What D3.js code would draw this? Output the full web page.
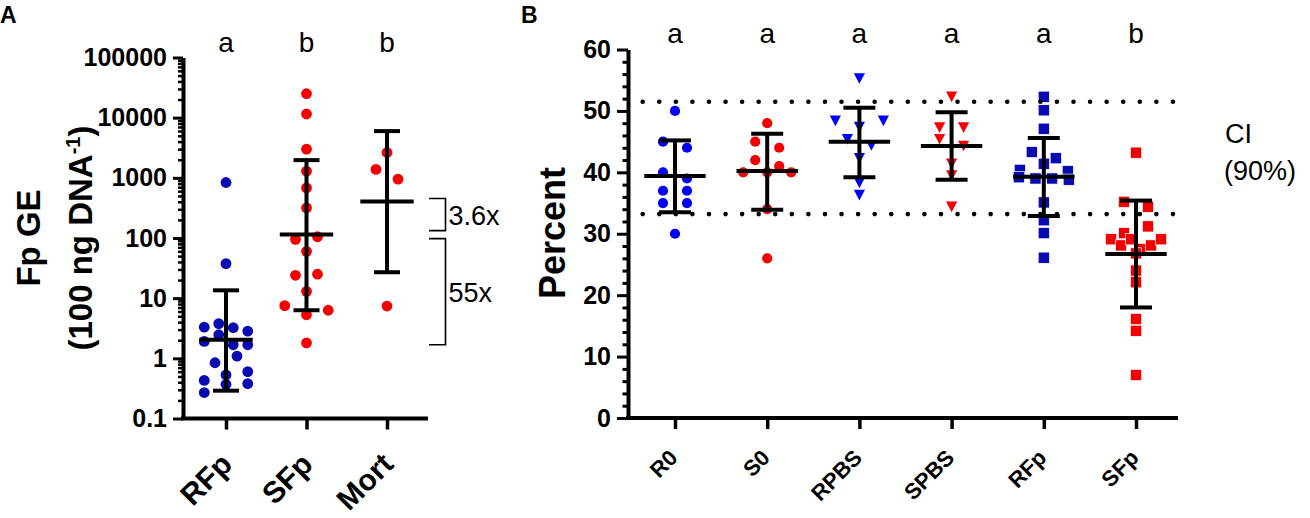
<!DOCTYPE html>
<html>
<head>
<meta charset="utf-8">
<script src="https://cdn.jsdelivr.net/npm/d3@7"></script>
<style>
  body { margin: 0; background: #fff; }
  text { font-family: "Liberation Sans", Arial, sans-serif; fill: #000; }
  .Slant { transform-box: view-box; }
</style>
</head>
<body>
<div id="chart"></div>
<script>
// ---- data, panel A (log scale, Fp GE) ----
var catsA = ["RFp", "SFp", "Mort"];
var lettersA = ["a", "b", "b"];
var aRFp = [836, 37.5, 3.3, 3.77, 3.23, 2.84, 1.91, 2.47, 1.68, 1.68, 0.845, 1.09, 0.43, 0.53, 0.60, 0.27, 0.37, 0.38];
var aSFp = [25000, 11500, 3000, 1290, 680, 316, 95, 105, 60, 24, 25, 13, 7.5, 5.3, 6.3, 1.8];
var aMort = [2640, 1380, 950, 7.4];
var meanA = [2.04, 114, 405];
var lowA = [0.29, 6.3, 27];
var highA = [13.5, 1970, 5980];
var ticksA = [0.1, 1, 10, 100, 1000, 10000, 100000];
var foldLabels = ["3.6x", "55x"];

// ---- data, panel B (percent) ----
var catsB = ["R0", "S0", "RPBS", "SPBS", "RFp", "SFp"];
var lettersB = ["a", "a", "a", "a", "a", "b"];
var bR0 = [50, 45, 44, 40, 39, 37, 37, 35, 35, 30];
var bS0 = [48, 45, 44, 42, 41, 40, 40, 40, 34, 26];
var bRPBS = [55.3, 48.4, 47.4, 48.4, 45.4, 44.4, 42.3, 38.3, 36.3];
var bSPBS = [52.3, 47.3, 47.3, 45.4, 44.3, 41.4, 39.5, 34.4];
var bRFp = [52.3, 50.1, 47.1, 43.3, 42.3, 40.4, 41.4, 40.2, 39.2, 39.0, 39.0, 38.8, 35.1, 32.2, 30.1, 26.1];
var bSFp = [43.2, 35.2, 34.4, 30.1, 31.2, 29.1, 28.1, 29.1, 27.5, 28.1, 29.1, 26.8, 24.0, 22.1, 16.1, 14.2, 7.0];
var meanB = [39.4, 40.2, 45.0, 44.3, 39.3, 26.7];
var lowB = [33.5, 33.9, 39.2, 38.8, 32.9, 18.0];
var highB = [45.2, 46.3, 50.5, 49.8, 45.6, 35.4];
var ticksB = [0, 10, 20, 30, 40, 50, 60];
var ciB = [33.2, 51.5];

// ---- styles ----
var blue = "#0000f2";
var darkBlue = "#0a0ab2";
var red = "#f40000";

var width = 1310;
var height = 518;

var svg = d3.select("#chart")
    .append("svg")
    .attr("width", width)
    .attr("height", height);

// rows of points that would overlap are spread sideways, centred on the group
function swarm(values, y, rowGap, maxHalf, maxStep) {
    var rows = [];
    var cur = null;
    values.forEach(function (v) {
        var py = y(v);
        if (cur && Math.max(cur.max, py) - Math.min(cur.min, py) < rowGap) {
            cur.items.push({v: v, y: py});
            cur.min = Math.min(cur.min, py);
            cur.max = Math.max(cur.max, py);
        } else {
            cur = {min: py, max: py, items: [{v: v, y: py}]};
            rows.push(cur);
        }
    });
    var out = [];
    rows.forEach(function (r) {
        var n = r.items.length;
        var step = n > 1 ? Math.min(maxStep, 2 * maxHalf / (n - 1)) : 0;
        r.items.forEach(function (it, i) {
            it.dx = (i - (n - 1) / 2) * step;
            out.push(it);
        });
    });
    return out;
}

function drawMarks(g, pts, cx, shape, color) {
    if (shape === "circle" || shape === "circleA") {
        g.selectAll(null).data(pts).enter().append("circle")
            .attr("cx", function (d) { return cx + d.dx; })
            .attr("cy", function (d) { return d.y; })
            .attr("r", shape === "circleA" ? 5.4 : 5.1)
            .attr("fill", color);
    } else if (shape === "square") {
        g.selectAll(null).data(pts).enter().append("rect")
            .attr("x", function (d) { return cx + d.dx - 5.6; })
            .attr("y", function (d) { return d.y - 5.6; })
            .attr("width", 11.2)
            .attr("height", 11.2)
            .attr("fill", color)
            .attr("stroke", "#fff")
            .attr("stroke-width", 0.7);
    } else {
        g.selectAll(null).data(pts).enter().append("path")
            .attr("d", "M-5.6,-5.2L5.6,-5.2L0,5.4Z")
            .attr("transform", function (d) { return "translate(" + (cx + d.dx) + "," + d.y + ")"; })
            .attr("fill", color);
    }
}

function drawErrorBar(g, cx, yLow, yMean, yHigh, capHalf, meanHalf) {
    g.append("line")
        .attr("x1", cx).attr("x2", cx)
        .attr("y1", yLow).attr("y2", yHigh)
        .attr("stroke", "#000").attr("stroke-width", 4);
    [yLow, yHigh].forEach(function (yy) {
        g.append("line")
            .attr("x1", cx - capHalf).attr("x2", cx + capHalf)
            .attr("y1", yy).attr("y2", yy)
            .attr("stroke", "#000").attr("stroke-width", 4);
    });
    g.append("line")
        .attr("x1", cx - meanHalf).attr("x2", cx + meanHalf)
        .attr("y1", yMean).attr("y2", yMean)
        .attr("stroke", "#000").attr("stroke-width", 4);
}

function styleAxis(g, fontSize) {
    g.select(".domain").attr("stroke", "#000").attr("stroke-width", 4);
    g.selectAll(".tick line").attr("stroke", "#000").attr("stroke-width", 3);
    g.selectAll(".tick text")
        .style("font-family", "'Liberation Sans', Arial, sans-serif")
        .style("font-weight", "bold")
        .style("font-size", fontSize + "px")
        .attr("fill", "#000");
}

// slanted category labels, turned with a CSS transform
function slantLabels(g, cats, x, dx, y, size) {
    g.selectAll(null).data(cats).enter().append("text")
        .attr("class", "Slant")
        .attr("x", 0)
        .attr("y", 0)
        .style("transform-origin", "0px 0px")
        .style("transform", function (d) {
            return "translate(" + (x(d) + dx) + "px," + y + "px) rotate(-45deg)";
        })
        .attr("text-anchor", "end")
        .style("font-size", size + "px")
        .style("font-weight", "bold")
        .text(function (d) { return d; });
}

// ================= PANEL A =================
var gA = svg.append("g").attr("id", "PanelA");
var axisXA = 183;
var baseA = 418.5;

var yA = d3.scaleLog().domain([0.1, 100000]).range([baseA, 57.5]);
var xA = d3.scalePoint().domain(catsA).range([226, 387]);

var minorA = yA.ticks().filter(function (t) { return ticksA.indexOf(t) < 0; });

gA.append("g")
    .attr("transform", "translate(" + axisXA + ",0)")
    .call(d3.axisLeft(yA).tickValues(minorA).tickSize(5).tickSizeOuter(0).tickFormat(""))
    .call(function (g) { g.select(".domain").remove(); g.selectAll(".tick line").attr("stroke", "#000").attr("stroke-width", 2.5); });

var yAxisA = gA.append("g")
    .attr("transform", "translate(" + axisXA + ",0)")
    .call(d3.axisLeft(yA).tickValues(ticksA).tickSize(10).tickSizeOuter(0).tickPadding(6)
        .tickFormat(function (d) { return d < 1 ? String(d) : d3.format("d")(d); }));
styleAxis(yAxisA, 25);

gA.append("line")
    .attr("x1", axisXA - 2).attr("x2", 428)
    .attr("y1", baseA).attr("y2", baseA)
    .attr("stroke", "#000").attr("stroke-width", 4);

gA.append("g")
    .attr("transform", "translate(0," + baseA + ")")
    .call(d3.axisBottom(xA).tickSize(11).tickSizeOuter(0).tickFormat(""))
    .call(function (g) { g.select(".domain").remove(); g.selectAll(".tick line").attr("stroke", "#000").attr("stroke-width", 3.5); });

slantLabels(gA, catsA, xA, 8, 466, 30);

gA.selectAll(".LetterA").data(catsA).enter().append("text")
    .attr("class", "LetterA")
    .attr("x", function (d) { return xA(d); })
    .attr("y", 52)
    .attr("text-anchor", "middle")
    .style("font-size", "28px")
    .text(function (d, i) { return lettersA[i]; });

var seriesA = [
    {values: aRFp, color: darkBlue},
    {values: aSFp, color: red},
    {values: aMort, color: red}
];
seriesA.forEach(function (s, i) {
    var pts = swarm(s.values, yA, 10.5, 21.75, 22);
    drawMarks(gA, pts, xA(catsA[i]), "circleA", s.color);
});
catsA.forEach(function (c, i) {
    drawErrorBar(gA, xA(c), yA(lowA[i]), yA(meanA[i]), yA(highA[i]), 13, 26.7);
});

// fold-change brackets between group means
var bracketX = 445.5;
var brackets = [
    {top: yA(meanA[2]) - 3, bottom: yA(meanA[1]) - 4, label: foldLabels[0]},
    {top: yA(meanA[1]) + 4, bottom: yA(meanA[0]) + 5, label: foldLabels[1]}
];
brackets.forEach(function (b) {
    gA.append("path")
        .attr("d", "M429," + b.top + "H" + bracketX + "V" + b.bottom + "H429")
        .attr("fill", "none")
        .attr("stroke", "#000")
        .attr("stroke-width", 1.6);
    gA.append("text")
        .attr("x", bracketX + 3)
        .attr("y", (b.top + b.bottom) / 2 + 10)
        .style("font-size", "27px")
        .text(b.label);
});

var yLabA = gA.append("g");
yLabA.append("text")
    .attr("transform", "translate(40,238) rotate(-90)")
    .attr("text-anchor", "middle")
    .style("font-size", "33px")
    .style("font-weight", "bold")
    .text("Fp GE");
var line2 = yLabA.append("text")
    .attr("transform", "translate(92,238) rotate(-90)")
    .attr("text-anchor", "middle")
    .style("font-size", "33px")
    .style("font-weight", "bold");
line2.append("tspan").text("(100 ng DNA");
line2.append("tspan").attr("dy", -12).style("font-size", "20px").text("-1");
line2.append("tspan").attr("dy", 12).text(")");

gA.append("text")
    .attr("x", 0).attr("y", 23)
    .style("font-size", "23px")
    .style("font-weight", "bold")
    .text("A");

// ================= PANEL B =================
var gB = svg.append("g").attr("id", "PanelB");
var axisXB = 628;
var baseB = 418;

var yB = d3.scaleLinear().domain([0, 60]).range([baseB, 49.5]);
var xB = d3.scalePoint().domain(catsB).range([675, 1136]);

var minorB = d3.range(0, 61, 2).filter(function (t) { return t % 10 !== 0; });

gB.append("g")
    .attr("transform", "translate(" + axisXB + ",0)")
    .call(d3.axisLeft(yB).tickValues(minorB).tickSize(5.5).tickSizeOuter(0).tickFormat(""))
    .call(function (g) { g.select(".domain").remove(); g.selectAll(".tick line").attr("stroke", "#000").attr("stroke-width", 3); });

var yAxisB = gB.append("g")
    .attr("transform", "translate(" + axisXB + ",0)")
    .call(d3.axisLeft(yB).tickValues(ticksB).tickSize(11).tickSizeOuter(0).tickPadding(6));
styleAxis(yAxisB, 25);

gB.append("line")
    .attr("x1", axisXB - 2).attr("x2", 1178)
    .attr("y1", baseB).attr("y2", baseB)
    .attr("stroke", "#000").attr("stroke-width", 4);

gB.append("g")
    .attr("transform", "translate(0," + baseB + ")")
    .call(d3.axisBottom(xB).tickSize(11).tickSizeOuter(0).tickFormat(""))
    .call(function (g) { g.select(".domain").remove(); g.selectAll(".tick line").attr("stroke", "#000").attr("stroke-width", 3.5); });

slantLabels(gB, catsB, xB, 4, 459, 22);

gB.selectAll(".LetterB").data(catsB).enter().append("text")
    .attr("class", "LetterB")
    .attr("x", function (d) { return xB(d); })
    .attr("y", 43)
    .attr("text-anchor", "middle")
    .style("font-size", "28px")
    .text(function (d, i) { return lettersB[i]; });

var seriesB = [
    {values: bR0, color: blue, shape: "circle"},
    {values: bS0, color: red, shape: "circle"},
    {values: bRPBS, color: blue, shape: "triangle"},
    {values: bSPBS, color: red, shape: "triangle"},
    {values: bRFp, color: darkBlue, shape: "square"},
    {values: bSFp, color: red, shape: "square"}
];
seriesB.forEach(function (s, i) {
    var pts = swarm(s.values, yB, 11, 25, 24);
    drawMarks(gB, pts, xB(catsB[i]), s.shape, s.color);
});
catsB.forEach(function (c, i) {
    drawErrorBar(gB, xB(c), yB(lowB[i]), yB(meanB[i]), yB(highB[i]), 16, 30.7);
});

// dotted CI lines
gB.selectAll(".CiLine").data(ciB).enter().append("line")
    .attr("class", "CiLine")
    .attr("x1", 642.7).attr("x2", 1174)
    .attr("y1", function (d) { return yB(d); })
    .attr("y2", function (d) { return yB(d); })
    .attr("stroke", "#000")
    .attr("stroke-width", 4.6)
    .attr("stroke-linecap", "round")
    .attr("stroke-dasharray", "0,16.57");

gB.append("text")
    .attr("x", 1225).attr("y", 143)
    .style("font-size", "27px")
    .text("CI");
gB.append("text")
    .attr("x", 1224).attr("y", 180)
    .style("font-size", "27px")
    .text("(90%)");

gB.append("text")
    .attr("transform", "translate(565,233) rotate(-90)")
    .attr("text-anchor", "middle")
    .style("font-size", "36px")
    .style("font-weight", "bold")
    .text("Percent");

gB.append("text")
    .attr("x", 521).attr("y", 23)
    .style("font-size", "23px")
    .style("font-weight", "bold")
    .text("B");
</script>
</body>
</html>
